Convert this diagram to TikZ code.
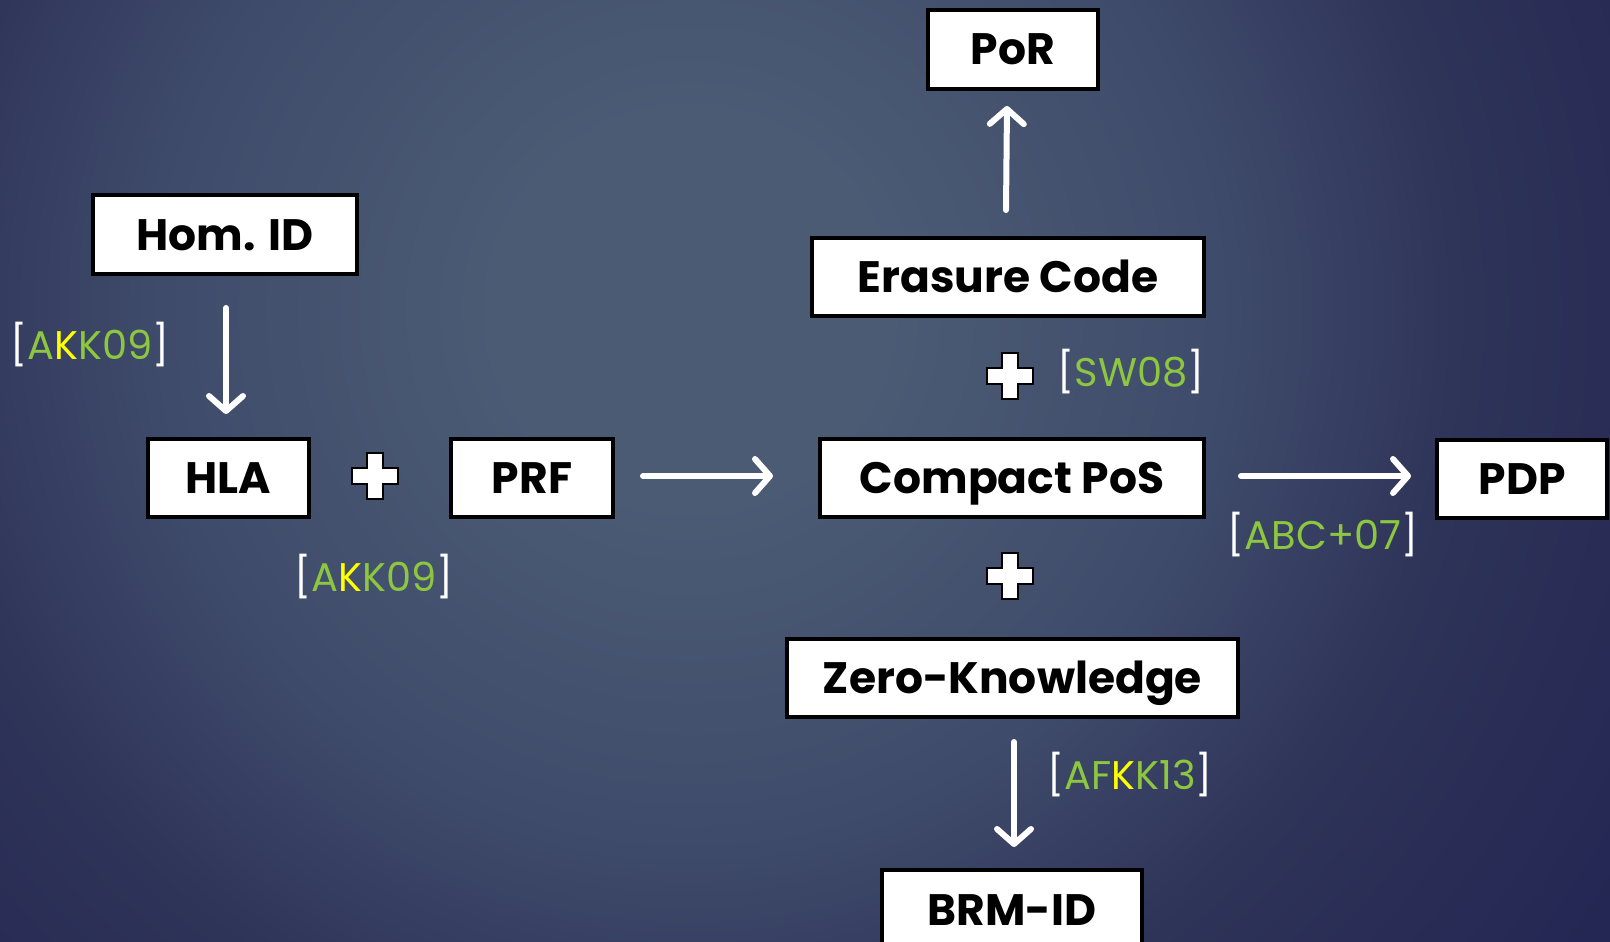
\documentclass[tikz,border=0pt]{standalone}
\usepackage{fontspec}
\setmainfont{Poppins}
\usetikzlibrary{arrows.meta}
\definecolor{bgc}{HTML}{4B5B74}
\definecolor{bgm}{HTML}{3E4A6A}
\definecolor{bgn}{HTML}{2E3358}
\definecolor{bge}{HTML}{222452}
\definecolor{refgreen}{HTML}{8DC63F}
\definecolor{refyellow}{HTML}{FFFF00}
\tikzset{
  boxnode/.style={draw=black, line width=4pt, fill=white, inner sep=0pt,
    font=\fontsize{44}{48}\selectfont\bfseries, text=black, anchor=north west,
    text height=31pt, text depth=0pt},
  arr/.style={draw=white, line width=6pt, line cap=round,
    -{Straight Barb[length=15pt,width=34pt,line width=6pt,round]}},
  reflabel/.style={font=\fontsize{40}{44}\selectfont, text=refgreen, inner sep=0pt},
  pluscross/.style={fill=white, draw=black, line width=1.5pt}
}
\newcommand{\lb}{\textcolor{white}{[}}
\newcommand{\rb}{\textcolor{white}{]}}
\newcommand{\yk}{\textcolor{refyellow}{K}}
\newcommand{\plusat}[2]{%
  \fill[pluscross] (#1-23,#2-8) -- (#1-8,#2-8) -- (#1-8,#2-23) -- (#1+8,#2-23) -- (#1+8,#2-8)
  -- (#1+23,#2-8) -- (#1+23,#2+8) -- (#1+8,#2+8) -- (#1+8,#2+23) -- (#1-8,#2+23)
  -- (#1-8,#2+8) -- (#1-23,#2+8) -- cycle;}
\pgfdeclareradialshading{bgshade}{\pgfpoint{0bp}{0bp}}{color(0bp)=(bgc); color(3.8bp)=(bgc); color(10.5bp)=(bgm); color(15bp)=(bgn); color(22.5bp)=(bge); color(50bp)=(bge)}
\begin{document}
\begin{tikzpicture}[x=1pt,y=-1pt]
\useasboundingbox (0,0) rectangle (1610,942);
\begin{scope}
\clip (0,0) rectangle (1610,942);
\shade[shading=bgshade] (690-1300,310-1300) rectangle (690+1300,310+1300);
\end{scope}

\node[boxnode, minimum width=170pt, minimum height=79pt] (por) at (926,8) {PoR};
\node[boxnode, minimum width=392pt, minimum height=78pt] (erasure) at (810,236) {Erasure Code};
\node[boxnode, minimum width=264pt, minimum height=79pt] (homid) at (91,193) {Hom. ID};
\node[boxnode, minimum width=161pt, minimum height=78pt] (hla) at (146,437) {HLA};
\node[boxnode, minimum width=162pt, minimum height=78pt] (prf) at (449,437) {PRF};
\node[boxnode, minimum width=384pt, minimum height=78pt] (cpos) at (818,437) {Compact PoS};
\node[boxnode, minimum width=170pt, minimum height=78pt] (pdp) at (1435,438) {PDP};
\node[boxnode, minimum width=451pt, minimum height=78pt] (zk) at (785,637) {Zero-Knowledge};
\node[boxnode, minimum width=260pt, minimum height=96pt] (brm) at (880,868) {\raisebox{8pt}{BRM-ID}};

\coordinate (porS) at (1006,210);
\coordinate (porE) at (1007,106);
\draw[arr] (porS) -- (porE);
\coordinate (homS) at (226,308);
\coordinate (homE) at (226,414);
\draw[arr] (homS) -- (homE);
\coordinate (prfS) at (643,476);
\coordinate (prfE) at (773,476);
\draw[arr] (prfS) -- (prfE);
\coordinate (cposS) at (1241,476);
\coordinate (cposE) at (1411,476);
\draw[arr] (cposS) -- (cposE);
\coordinate (zkS) at (1014,742);
\coordinate (zkE) at (1014,847);
\draw[arr] (zkS) -- (zkE);

\plusat{375}{476}
\plusat{1010}{376}
\plusat{1010}{576}

\node[reflabel] (l1) at (90,345) {\lb A\yk K09\rb};
\node[reflabel] (l2) at (374,577) {\lb A\yk K09\rb};
\node[reflabel] (l3) at (1131,372) {\lb SW08\rb};
\node[reflabel] (l4) at (1323,535) {\lb ABC+07\rb};
\node[reflabel] (l5) at (1130,775) {\lb AF\yk K13\rb};
\end{tikzpicture}
\end{document}
